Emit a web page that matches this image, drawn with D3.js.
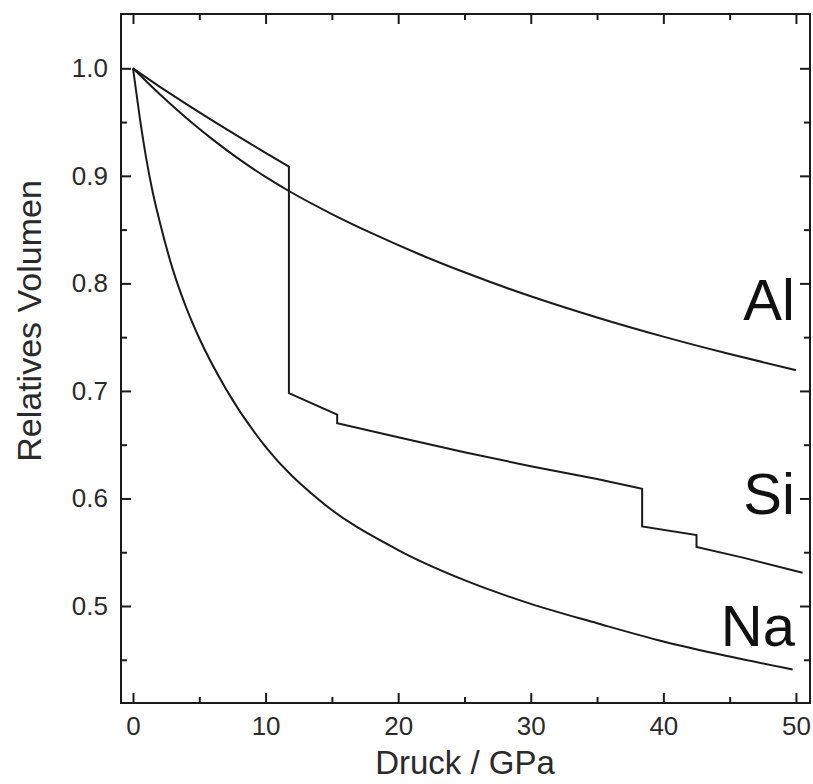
<!DOCTYPE html>
<html>
<head>
<meta charset="utf-8">
<script src="https://cdn.jsdelivr.net/npm/d3@7"></script>
<style>
  html, body { margin: 0; padding: 0; background: #fff; }
  svg { display: block; }
  text { font-family: Arial, "Liberation Sans", sans-serif; }
</style>
</head>
<body>
<svg id="chart" width="813" height="784"></svg>
<script>
// ---- data ----
const pressureMajorTicks = [0, 10, 20, 30, 40, 50];
const pressureMinorTicks = [5, 15, 25, 35, 45];
const volumeMajorTicks = [0.5, 0.6, 0.7, 0.8, 0.9, 1.0];
const volumeMinorTicks = [0.45, 0.55, 0.65, 0.75, 0.85, 0.95];

const alPressure = [0, 2, 4, 6, 8, 10, 11.76, 15, 18, 21.6, 25, 30, 35, 40, 45, 50];
const alVolume   = [1.0, 0.9761, 0.9541, 0.9339, 0.9155, 0.899, 0.8859, 0.8645, 0.8467, 0.8271, 0.8103, 0.788, 0.7683, 0.7505, 0.7343, 0.7193];

const siPressure = [0, 2, 4, 6, 8, 10, 11.76, 11.76, 15.4, 15.4, 20, 25, 30, 35, 38.4, 38.4, 42.5, 42.5, 46, 50.5];
const siVolume   = [1.0, 0.983, 0.967, 0.9514, 0.9362, 0.9214, 0.9086, 0.698, 0.678, 0.670, 0.657, 0.643, 0.630, 0.618, 0.609, 0.574, 0.566, 0.555, 0.545, 0.531];

const naPressure = [0, 0.5, 1, 1.5, 2, 3, 4, 5, 7, 10, 14, 20, 25, 30, 35, 40, 45, 49.75];
const naVolume   = [1.0, 0.955, 0.916, 0.884, 0.858, 0.813, 0.778, 0.749, 0.702, 0.648, 0.599, 0.552, 0.524, 0.502, 0.484, 0.467, 0.453, 0.441];

const seriesLabels = ["Al", "Si", "Na"];
const labelVolume = [0.7659, 0.5856, 0.4628];
const xTitle = "Druck / GPa";
const yTitle = "Relatives Volumen";

// ---- layout ----
const svg = d3.select("#chart");
const pLeft = 121, pRight = 810, pTop = 14, pBottom = 703;

const x = d3.scaleLinear().domain([-0.905, 51.06]).range([pLeft, pRight]);
const y = d3.scaleLinear().domain([0.4098, 1.0505]).range([pBottom, pTop]);

const ink = "#1a1a1a";
const labelColor = "#2a2a2a";

svg.append("defs").append("clipPath").attr("id", "plotclip")
  .append("rect").attr("x", pLeft).attr("y", pTop).attr("width", pRight - pLeft).attr("height", pBottom - pTop);

const g = svg.append("g").attr("clip-path", "url(#plotclip)");

const smooth = d3.line().x(d => x(d[0])).y(d => y(d[1])).curve(d3.curveMonotoneX);
const straight = d3.line().x(d => x(d[0])).y(d => y(d[1])).curve(d3.curveLinear);

const alData = alPressure.map((p, i) => [p, alVolume[i]]);
const siData = siPressure.map((p, i) => [p, siVolume[i]]);
const naData = naPressure.map((p, i) => [p, naVolume[i]]);

g.append("path").attr("d", smooth(alData)).attr("fill", "none").attr("stroke", ink).attr("stroke-width", 2);
g.append("path").attr("d", straight(siData)).attr("fill", "none").attr("stroke", ink).attr("stroke-width", 2).attr("stroke-linejoin", "miter");
g.append("path").attr("d", smooth(naData)).attr("fill", "none").attr("stroke", ink).attr("stroke-width", 2);

function styleAxis(sel) {
  sel.select(".domain").remove();
  sel.selectAll(".tick line").attr("stroke", ink).attr("stroke-width", 2);
}

const xAxisBottom = d3.axisBottom(x).tickValues(pressureMajorTicks).tickSize(-10).tickPadding(14).tickFormat(d3.format("d"));
const xAxisBottomMinor = d3.axisBottom(x).tickValues(pressureMinorTicks).tickSize(-6).tickFormat("");
const xAxisTop = d3.axisTop(x).tickValues(pressureMajorTicks).tickSize(-10).tickFormat("");
const xAxisTopMinor = d3.axisTop(x).tickValues(pressureMinorTicks).tickSize(-6).tickFormat("");

const yAxisLeft = d3.axisLeft(y).tickValues(volumeMajorTicks).tickSize(-10).tickPadding(13).tickFormat(d3.format(".1f"));
const yAxisLeftMinor = d3.axisLeft(y).tickValues(volumeMinorTicks).tickSize(-6).tickFormat("");
const yAxisRight = d3.axisRight(y).tickValues(volumeMajorTicks).tickSize(-10).tickFormat("");
const yAxisRightMinor = d3.axisRight(y).tickValues(volumeMinorTicks).tickSize(-6).tickFormat("");

const gxb = svg.append("g").attr("transform", `translate(0,${pBottom})`).call(xAxisBottom);
styleAxis(gxb);
gxb.selectAll("text").attr("font-size", 26).attr("fill", labelColor).attr("font-family", "Arial, 'Liberation Sans', sans-serif");
styleAxis(svg.append("g").attr("transform", `translate(0,${pBottom})`).call(xAxisBottomMinor));
styleAxis(svg.append("g").attr("transform", `translate(0,${pTop})`).call(xAxisTop));
styleAxis(svg.append("g").attr("transform", `translate(0,${pTop})`).call(xAxisTopMinor));

const gyl = svg.append("g").attr("transform", `translate(${pLeft},0)`).call(yAxisLeft);
styleAxis(gyl);
gyl.selectAll("text").attr("font-size", 26).attr("fill", labelColor).attr("font-family", "Arial, 'Liberation Sans', sans-serif");
styleAxis(svg.append("g").attr("transform", `translate(${pLeft},0)`).call(yAxisLeftMinor));
styleAxis(svg.append("g").attr("transform", `translate(${pRight},0)`).call(yAxisRight));
styleAxis(svg.append("g").attr("transform", `translate(${pRight},0)`).call(yAxisRightMinor));

svg.append("rect").attr("x", pLeft).attr("y", pTop).attr("width", pRight - pLeft).attr("height", pBottom - pTop)
  .attr("fill", "none").attr("stroke", ink).attr("stroke-width", 2);

svg.append("text").attr("x", 465).attr("y", 774).attr("text-anchor", "middle")
  .attr("font-size", 33).attr("fill", labelColor).text(xTitle);
svg.append("text").attr("transform", `translate(41,321) rotate(-90)`).attr("text-anchor", "middle")
  .attr("font-size", 34).attr("fill", labelColor).text(yTitle);

seriesLabels.forEach((t, i) => {
  svg.append("text").attr("x", x(50) - 1).attr("y", y(labelVolume[i]))
    .attr("text-anchor", "end").attr("font-size", 58).attr("fill", "#111").text(t);
});
</script>
</body>
</html>
